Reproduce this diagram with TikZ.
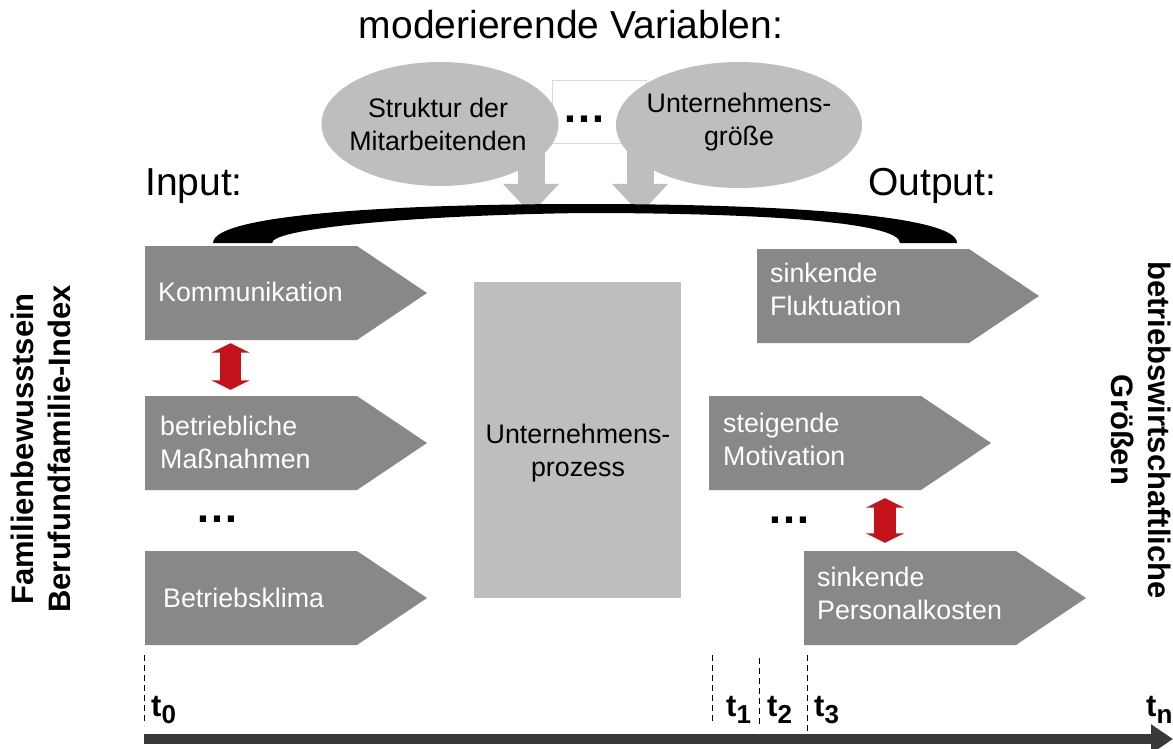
\documentclass[tikz,border=0pt]{standalone}
\usepackage{fontspec}
\setmainfont{Liberation Sans}
\usetikzlibrary{arrows.meta,shapes.geometric}
\definecolor{chevgray}{RGB}{136,136,136}
\definecolor{lightgrey}{RGB}{190,190,190}
\definecolor{arrred}{RGB}{196,18,26}
\definecolor{axisgray}{RGB}{56,56,56}
\definecolor{framegray}{RGB}{218,218,218}
\begin{document}
\begin{tikzpicture}[x=1pt,y=-1pt,
  chevfill/.style={fill=chevgray},
  chevbody/.style={rectangle, inner sep=0, minimum width=212pt, minimum height=94pt},
  chevtext/.style={anchor=west, align=left, text=white, inner sep=0, font=\fontsize{26.8}{33}\selectfont},
  ellbox/.style={ellipse, fill=lightgrey, inner sep=0},
  elltext/.style={align=center, inner sep=0, font=\fontsize{26.8}{33}\selectfont},
  titlefont/.style={font=\fontsize{39}{47}\selectfont, inner sep=0},
  dotsfont/.style={font=\fontsize{44}{44}\selectfont\bfseries, inner sep=0, anchor=base},
  tlab/.style={font=\fontsize{31}{31}\selectfont\bfseries, inner sep=0, anchor=base west},
  tline/.style={dash pattern=on 6pt off 4pt, line width=0.9pt},
  redarrow/.style={draw=arrred, line width=21.5pt, {Triangle[width=38pt,length=9.5pt]}-{Triangle[width=38pt,length=9.5pt]}},
  greyarrow/.style={draw=lightgrey, line width=27pt, -{Triangle[width=54pt,length=30pt]}},
  axisarrow/.style={draw=axisgray, line width=10pt, -{Triangle[width=28pt,length=22pt]}},
  sidelabel/.style={font=\fontsize{31}{37}\selectfont\bfseries, align=center, inner sep=0}
]
\useasboundingbox (0,0) rectangle (1173,749);

% title and headings
\node[titlefont, anchor=base] (title) at (571,39) {moderierende Variablen:};
\node[titlefont, anchor=base west] (inp) at (145,195) {Input:};
\node[titlefont, anchor=base west] (outp) at (868,195) {Output:};

% moderating variables
\node[draw=framegray, line width=0.8pt, minimum width=94pt, minimum height=63pt, inner sep=0] (dotbox) at (599,111.5) {};
\node[ellbox, minimum width=237pt, minimum height=124pt] (e1) at (440,124) {};
\node[ellbox, minimum width=246pt, minimum height=126pt] (e2) at (739,125) {};
\coordinate (g1) at (531,214);
\coordinate (g2) at (640,214);
\draw[greyarrow] ([xshift=91pt,yshift=-24pt]e1.center) -- (g1);
\draw[greyarrow] ([xshift=-99pt,yshift=-24pt]e2.center) -- (g2);
\node[elltext] (e1t) at (438,124) {Struktur der\\Mitarbeitenden};
\node[elltext] (e2t) at (739,122) {Unternehmens-\\größe};
\node[dotsfont] (topdots) at (584,123) {…};

% arch
\fill (213,243) .. controls (213,214) and (400,204) .. (585,204)
  .. controls (770,204) and (957,214) .. (957,243)
  -- (900,243) .. controls (900,222) and (760,213) .. (585,213)
  .. controls (420,215) and (272,228) .. (272,243) -- cycle;

% input chevrons
\fill[chevfill] (145,246) -- (357,246) -- (427,293) -- (357,340) -- (145,340) -- cycle;
\fill[chevfill] (145,396) -- (357,396) -- (427,443) -- (357,490) -- (145,490) -- cycle;
\fill[chevfill] (145,551) -- (357,551) -- (427,598) -- (357,645) -- (145,645) -- cycle;
\node[chevbody] (k1) at (251,293) {};
\node[chevbody] (k2) at (251,443) {};
\node[chevbody] (k3) at (251,598) {};
\node[chevtext] (k1t) at (158,292) {Kommunikation};
\node[chevtext] (k2t) at (160,442) {betriebliche\\Maßnahmen};
\node[chevtext] (k3t) at (163,598) {Betriebsklima};
\draw[redarrow] ([xshift=-20.5pt,yshift=-3pt]k1.south) -- ([xshift=-20.5pt,yshift=6pt]k2.north);
\node[dotsfont] (ldots) at (217,522) {…};

% process
\node[fill=lightgrey, minimum width=207pt, minimum height=316pt, inner sep=0] (proc) at (577.5,440) {};
\node[elltext] (proct) at (578,453) {Unternehmens-\\prozess};

% output chevrons
\fill[chevfill] (757,249) -- (969,249) -- (1039,296) -- (969,343) -- (757,343) -- cycle;
\fill[chevfill] (709,396) -- (921,396) -- (991,443) -- (921,490) -- (709,490) -- cycle;
\fill[chevfill] (804,551) -- (1016,551) -- (1086,598) -- (1016,645) -- (804,645) -- cycle;
\node[chevbody] (r1) at (863,296) {};
\node[chevbody] (r2) at (815,443) {};
\node[chevbody] (r3) at (910,598) {};
\node[chevtext] (r1t) at (770,289) {sinkende\\Fluktuation};
\node[chevtext] (r2t) at (723,439) {steigende\\Motivation};
\node[chevtext] (r3t) at (817,593) {sinkende\\Personalkosten};
\draw[redarrow] ([xshift=70pt,yshift=-8pt]r2.south) -- ([xshift=-25pt,yshift=8pt]r3.north);
\node[dotsfont] (rdots) at (789,523) {…};

% side labels
\node[sidelabel, rotate=90] (lside) at (41,449) {Familienbewusstsein\\Berufundfamilie-Index};
\node[sidelabel, rotate=-90] (rside) at (1141,430) {betriebswirtschaftliche\\Größen};

% time axis
\draw[tline] (144,655) -- (144,725);
\draw[tline] (712,655) -- (712,722);
\draw[tline] (759,658) -- (759,728);
\draw[tline] (807,655) -- (807,738);
\node[tlab] (t0) at (151,716) {t\raisebox{-7pt}{\fontsize{26}{26}\selectfont 0}};
\node[tlab] (t1) at (726,716) {t\raisebox{-7pt}{\fontsize{26}{26}\selectfont 1}};
\node[tlab] (t2) at (767,716) {t\raisebox{-7pt}{\fontsize{26}{26}\selectfont 2}};
\node[tlab] (t3) at (814,716) {t\raisebox{-7pt}{\fontsize{26}{26}\selectfont 3}};
\node[tlab] (tn) at (1146,716) {t\raisebox{-7pt}{\fontsize{26}{26}\selectfont n}};
\coordinate (ax0) at (144,739);
\coordinate (ax1) at (1173,739);
\draw[axisarrow] (ax0) -- (ax1);
\end{tikzpicture}
\end{document}
